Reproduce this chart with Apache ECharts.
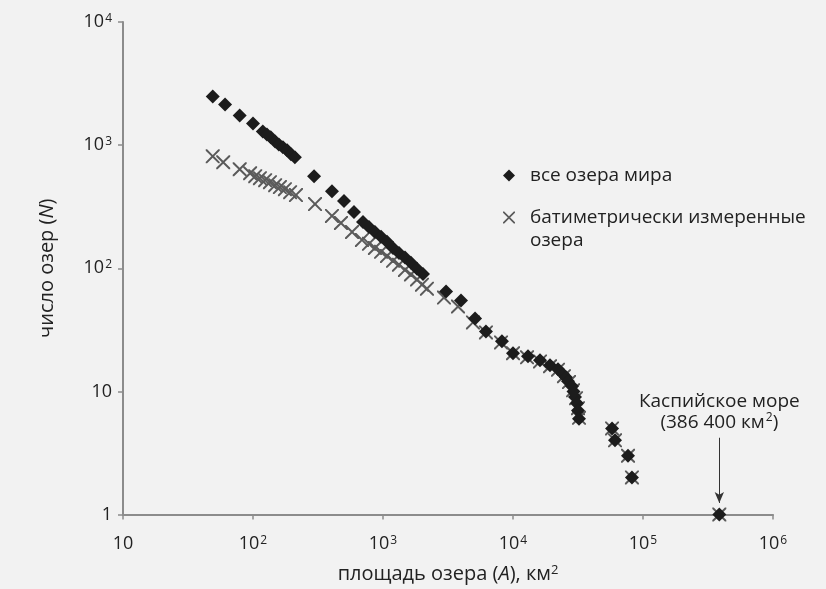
<!DOCTYPE html>
<html>
<head>
<meta charset="utf-8">
<script src="https://cdn.jsdelivr.net/npm/echarts@6/dist/echarts.min.js"></script>
<style>
html,body{margin:0;padding:0;background:#f2f2f2;}
#c{width:826px;height:589px;}
</style>
</head>
<body>
<div id="c"></div>
<script>
// ---- data (area km², number of lakes N with area >= A) ----
const allLakesArea = [49, 61, 79, 100, 119, 128, 137, 148, 158, 170, 183, 196, 210, 295, 405, 501, 598, 702, 780, 867, 966, 1074, 1194, 1327, 1476, 1641, 1827, 2032, 3055, 3981, 5105, 6194, 8222, 10000, 13040, 16140, 19260, 22200, 24250, 25500, 26500, 28440, 29200, 30000, 31050, 31620, 32200, 57800, 60900, 76700, 82200, 386400];
const allLakesN    = [2480, 2134, 1740, 1500, 1291, 1222, 1156, 1072, 1014, 959, 907, 842, 796, 559, 423, 351, 286, 238, 216, 197, 180, 164, 146, 133, 122, 111, 99, 90, 64.6, 54.6, 39, 30.7, 25.5, 20.4, 19.3, 17.9, 16.3, 15.1, 13.8, 13, 12.1, 11, 10, 9, 8, 7, 6, 5, 4, 3, 2, 1];

const bathyArea = [49, 59, 79, 95, 104, 113, 124, 135, 148, 161, 176, 193, 214, 300, 405, 475, 578, 689, 780, 867, 966, 1074, 1194, 1327, 1476, 1641, 1827, 1995, 2178, 2945, 3776, 4920, 6194, 8090, 10000, 12820, 16140, 19260, 22200, 24660, 26960, 28950, 30550, 31620, 32200, 57800, 60900, 76700, 82200, 386400];
const bathyN    = [811, 726, 637, 591, 559, 539, 519, 500, 473, 456, 439, 415, 393, 332, 266, 233, 197, 170, 158, 146, 136, 126, 115, 107, 97, 89, 81, 73.6, 68.3, 57.8, 48.9, 36.3, 30.1, 25, 20.4, 18.9, 17.5, 16, 15, 13.3, 11.9, 10.2, 8.8, 7.3, 6.1, 5, 4, 3, 2, 1];

const seriesNames = ['все озера мира', 'батиметрически измеренные\nозера'];
const xTickLabels = {10: '10', 100: '10{sup|2}', 1000: '10{sup|3}', 10000: '10{sup|4}', 100000: '10{sup|5}', 1000000: '10{sup|6}'};
const yTickLabels = {1: '1', 10: '10', 100: '10{sup|2}', 1000: '10{sup|3}', 10000: '10{sup|4}'};
const caspian = {area: 386400, labelN: 6.8, arrowFrom: 4.2, arrowTo: 1.24,
  text: 'Каспийское море\n(386 400 км{sup|2})'};

const FONT = '"Open Sans", "Noto Sans", sans-serif';
const crossPath = 'path://M0,0 L2,0 L10,8 L18,0 L20,0 L20,2 L12,10 L20,18 L20,20 L18,20 L10,12 L2,20 L0,20 L0,18 L8,10 L0,2 Z';
const supStyle = {fontSize: 12, verticalAlign: 'top', fontFamily: FONT, color: '#222', padding: [0, 0, 7, 1]};

const zip = (a, b) => a.map((v, i) => [v, b[i]]);

const legendText = {fontSize: 19, color: '#222', fontFamily: FONT, lineHeight: 23, padding: [0, 0, 0, 10]};

const chart = echarts.init(document.getElementById('c'), null, {renderer: 'canvas'});
chart.setOption({
  backgroundColor: '#f2f2f2',
  animation: false,
  textStyle: {fontFamily: FONT},
  grid: {left: 123, right: 53, top: 22, bottom: 72, containLabel: false},
  legend: [
    {
      orient: 'vertical', left: 498, top: 159,
      itemWidth: 12, itemHeight: 12,
      data: [{name: seriesNames[0], icon: 'diamond'}],
      textStyle: legendText,
      selectedMode: false
    },
    {
      orient: 'vertical', left: 498, top: 178,
      itemWidth: 12, itemHeight: 12,
      data: [{name: seriesNames[1], icon: crossPath}],
      formatter: name => ' \n' + name,
      textStyle: legendText,
      selectedMode: false
    }
  ],
  xAxis: {
    type: 'log', logBase: 10, min: 10, max: 1000000,
    name: 'площадь озера ({i|A}), км{sup|2}',
    nameLocation: 'middle', nameGap: 49,
    nameTextStyle: {fontSize: 20, color: '#222', fontFamily: FONT,
      rich: {i: {fontStyle: 'italic', fontSize: 20, fontFamily: FONT, color: '#222'},
             sup: {fontSize: 13, verticalAlign: 'top', fontFamily: FONT, color: '#222', padding: [0, 0, 8, 0]}}},
    axisLine: {lineStyle: {color: '#8c8c8c', width: 2}},
    axisTick: {length: 5, lineStyle: {color: '#8c8c8c', width: 1.5}},
    splitLine: {show: false},
    axisLabel: {
      margin: 20, fontSize: 18, color: '#222', fontFamily: FONT,
      formatter: v => xTickLabels[Math.round(v)] || '',
      rich: {sup: supStyle}
    }
  },
  yAxis: {
    type: 'log', logBase: 10, min: 1, max: 10000,
    name: 'число озер ({i|N})',
    nameLocation: 'middle', nameGap: 66, nameRotate: 90,
    nameTextStyle: {fontSize: 20, color: '#222', fontFamily: FONT,
      rich: {i: {fontStyle: 'italic', fontSize: 20, fontFamily: FONT, color: '#222'}}},
    axisLine: {show: true, lineStyle: {color: '#8c8c8c', width: 2}},
    axisTick: {show: true, length: 5, lineStyle: {color: '#8c8c8c', width: 1.5}},
    splitLine: {show: false},
    axisLabel: {
      margin: 11, fontSize: 18, color: '#222', fontFamily: FONT,
      formatter: v => yTickLabels[Math.round(v)] || '',
      rich: {sup: supStyle}
    }
  },
  series: [
    {
      name: seriesNames[1], type: 'scatter', z: 2,
      symbol: crossPath, symbolSize: 14,
      itemStyle: {color: '#5a5a5a', opacity: 1},
      data: zip(bathyArea, bathyN)
    },
    {
      name: seriesNames[0], type: 'scatter', z: 3,
      symbol: 'diamond', symbolSize: 14,
      itemStyle: {color: '#1c1c1c', opacity: 1},
      data: zip(allLakesArea, allLakesN),
      markPoint: {
        silent: true, symbol: 'circle', symbolSize: 0,
        label: {show: true, position: 'inside', formatter: caspian.text,
          fontSize: 19, lineHeight: 21, color: '#222', fontFamily: FONT,
          rich: {sup: supStyle}},
        data: [{coord: [caspian.area, caspian.labelN]}]
      },
      markLine: {
        silent: true, symbol: ['none', 'arrow'], symbolSize: [7, 11],
        lineStyle: {color: '#333', width: 1, type: 'solid'},
        label: {show: false},
        data: [[{coord: [caspian.area, caspian.arrowFrom]}, {coord: [caspian.area, caspian.arrowTo]}]]
      }
    }
  ]
});
</script>
</body>
</html>
